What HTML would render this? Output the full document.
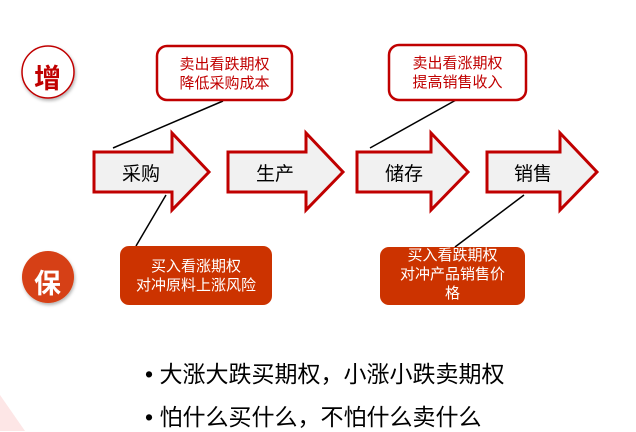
<!DOCTYPE html>
<html><head><meta charset="utf-8"><style>
body{margin:0;width:636px;height:431px;background:#fff;overflow:hidden;position:relative;font-family:"Liberation Sans","Noto Sans CJK SC",sans-serif}
.t{position:absolute;white-space:nowrap}
</style></head><body>
<svg width="636" height="431" style="position:absolute;left:0;top:0">
<defs><filter id="sh"><feDropShadow dx="1" dy="2" stdDeviation="1.5" flood-opacity="0.3"/></filter></defs>
<polygon points="0,395 25,431 0,431" fill="#fde6e6"/>
<g fill="#f1f1f1" stroke="#c00000" stroke-width="3">
<polygon points="94,152 172,152 172,133 209,172 172,210 172,192 94,192"/>
<polygon points="228,152 306,152 306,133 343,172 306,210 306,192 228,192"/>
<polygon points="357,152 431,152 431,133 468,172 431,210 431,192 357,192"/>
<polygon points="487,152 560,152 560,133 597,172 560,210 560,192 487,192"/>
</g>
<g stroke="#000" stroke-width="1.5">
<line x1="223" y1="101" x2="113" y2="148"/>
<line x1="456" y1="100" x2="370" y2="148"/>
<line x1="166" y1="195" x2="136" y2="246"/>
<line x1="524" y1="195" x2="455" y2="247"/>
</g>
<rect x="157" y="46" width="135" height="54" rx="10" fill="#fff" stroke="#c00000" stroke-width="2.5"/>
<rect x="389" y="45" width="137" height="55" rx="10" fill="#fff" stroke="#c00000" stroke-width="2.5"/>
<rect x="120" y="246" width="152" height="59" rx="9" fill="#cc3300"/>
<rect x="380" y="247" width="145" height="58" rx="9" fill="#cc3300"/>
<circle cx="48" cy="72" r="26" fill="#fff" stroke="#c00000" stroke-width="1.5" filter="url(#sh)"/>
<circle cx="48" cy="277" r="26" fill="#d64012" filter="url(#sh)"/>
</svg>
<div class="t" style="left:34px;top:57px;font-size:27px;font-weight:bold;color:#c00000">增</div>
<div class="t" style="left:34px;top:262px;font-size:27px;font-weight:bold;color:#fff">保</div>
<div class="t" style="left:157px;width:135px;top:55px;text-align:center;font-size:15px;line-height:19px;color:#c00000">卖出看跌期权<br>降低采购成本</div>
<div class="t" style="left:389px;width:137px;top:54px;text-align:center;font-size:15px;line-height:19px;color:#c00000">卖出看涨期权<br>提高销售收入</div>
<div class="t" style="left:120px;width:152px;top:257px;text-align:center;font-size:15px;line-height:19px;color:#fff">买入看涨期权<br>对冲原料上涨风险</div>
<div class="t" style="left:380px;width:145px;top:246px;text-align:center;font-size:15px;line-height:19px;color:#fff">买入看跌期权<br>对冲产品销售价<br>格</div>
<div class="t" style="left:122px;top:159px;font-size:19px;color:#000">采购</div>
<div class="t" style="left:256px;top:159px;font-size:19px;color:#000">生产</div>
<div class="t" style="left:385px;top:159px;font-size:19px;color:#000">储存</div>
<div class="t" style="left:514px;top:159px;font-size:19px;color:#000">销售</div>
<div class="t" style="left:145px;top:355px;font-size:23px;color:#000">•&nbsp;大涨大跌买期权，小涨小跌卖期权</div>
<div class="t" style="left:145px;top:398px;font-size:23px;color:#000">•&nbsp;怕什么买什么，不怕什么卖什么</div>
</body></html>
